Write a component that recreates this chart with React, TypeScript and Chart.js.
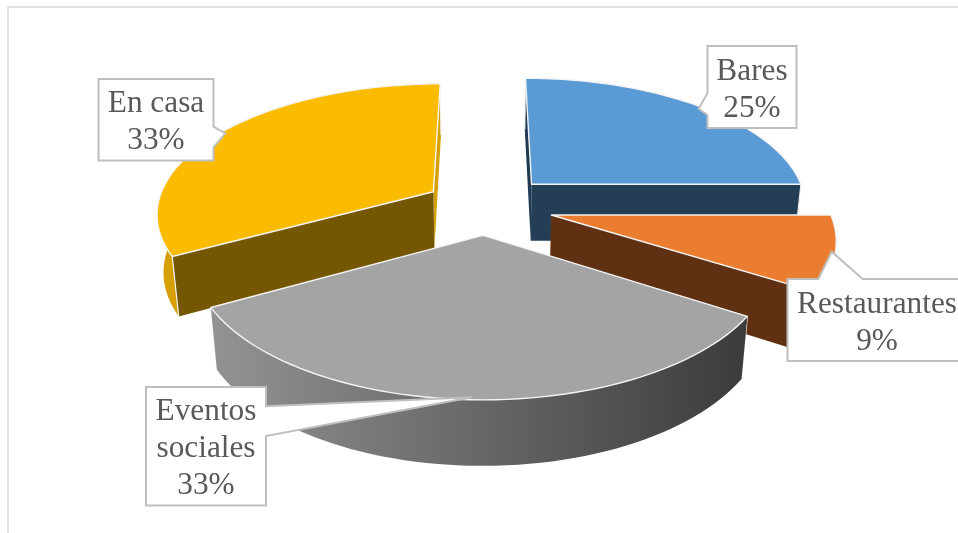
import React, { useEffect, useRef } from "react";
import { Chart, registerables } from "chart.js";

Chart.register(...registerables);

// Share of responses per place
const categories = ["Bares", "Restaurantes", "Eventos sociales", "En casa"];
const shares = [25, 9, 33, 33];

const explode = [58, 58.6, 52.3, 52.3];

const topColors = ["#5B9BD5", "#EB7D31", "#A4A4A4", "#FBBC00"];
const startWallColors = ["#1F3A54", "#8C4A1D", "#666666", "#745700"];
const endWallColors = ["#233E55", "#5F3112", "#666666", "#D6A100"];
const rimFromColors = ["#1F3A54", "#8C4A1D", "#939393", "#D6A100"];
const rimToColors = ["#1F3A54", "#8C4A1D", "#3B3B3B", "#D6A100"];

// Tilted-camera model used to turn the pie's flat geometry into a solid
const VIEW = { cx: 485, cy: 206, scaleX: 1.166, scaleZ: 0.543, depth: 0.2476, persp: 0.155, recede: 0.02 };

// Callout rectangles (left, top, right, bottom) and their pointer polygons
const callouts = [
  { box: [707.5, 46, 796.5, 128], side: "left", pointer: [[707.5, 93], [698.7, 108.7], [707.5, 115]] },
  { box: [787.5, 279, 975, 361], side: "top", pointer: [[818.3, 279], [831.7, 251.7], [862.7, 279]] },
  { box: [146, 387, 266, 505.5], side: "right", pointer: [[266, 406.3], [471.7, 397.3], [266, 436]] },
  { box: [98.5, 79, 213.5, 160.5], side: "right", pointer: [[213.5, 126.7], [225.3, 133.3], [213.5, 147.3]] },
];
const calloutTextCenters = [752, 877, 206, 156];

type Pt = [number, number];

function project(X: number, Z: number, lower: boolean, R: number): Pt {
  const w = 1 - VIEW.persp * Z + (lower ? VIEW.recede : 0);
  return [
    VIEW.cx + (VIEW.scaleX * R * X) / w,
    VIEW.cy + (VIEW.scaleZ * R * Z + (lower ? VIEW.depth * R : 0)) / w,
  ];
}

function fillPoly(ctx: CanvasRenderingContext2D, pts: Pt[], fill: string | CanvasGradient) {
  ctx.beginPath();
  pts.forEach((p, i) => (i ? ctx.lineTo(p[0], p[1]) : ctx.moveTo(p[0], p[1])));
  ctx.closePath();
  ctx.fillStyle = fill;
  ctx.fill();
}

function whiteLine(ctx: CanvasRenderingContext2D, a: Pt, b: Pt, width = 1.2) {
  ctx.beginPath();
  ctx.moveTo(a[0], a[1]);
  ctx.lineTo(b[0], b[1]);
  ctx.strokeStyle = "#F4F4F4";
  ctx.lineWidth = width;
  ctx.stroke();
}

function drawSolidSlice(ctx: CanvasRenderingContext2D, arc: any, index: number) {
  const R: number = arc.outerRadius;
  const start: number = arc.startAngle;
  const end: number = arc.endAngle;
  const mid = (start + end) / 2;
  const e = arc.options.offset / R;
  const ox = Math.cos(mid) * e;
  const oz = Math.sin(mid) * e;

  const rimAt = (a: number, lower: boolean) => project(ox + Math.cos(a), oz + Math.sin(a), lower, R);
  const steps = 60;
  const angles: number[] = [];
  for (let i = 0; i <= steps; i++) angles.push(start + ((end - start) * i) / steps);

  const apexTop = project(ox, oz, false, R);
  const apexLow = project(ox, oz, true, R);
  const topArc = angles.map((a) => rimAt(a, false));
  const lowArc = angles.map((a) => rimAt(a, true));

  const faces: { z: number; paint: () => void }[] = [];
  [start, end].forEach((a, side) => {
    const p = rimAt(a, false);
    const q = rimAt(a, true);
    faces.push({
      z: oz + Math.sin(a) / 2,
      paint: () => {
        fillPoly(ctx, [apexTop, p, q, apexLow], side ? endWallColors[index] : startWallColors[index]);
        whiteLine(ctx, p, q);
      },
    });
  });
  faces.push({
    z: oz + Math.sin(mid),
    paint: () => {
      const xs = [...topArc, ...lowArc].map((p) => p[0]);
      const grad = ctx.createLinearGradient(Math.min(...xs), 0, Math.max(...xs), 0);
      grad.addColorStop(0, rimFromColors[index]);
      grad.addColorStop(1, rimToColors[index]);
      fillPoly(ctx, [...topArc, ...[...lowArc].reverse()], grad);
    },
  });
  faces.sort((a, b) => a.z - b.z).forEach((f) => f.paint());

  const topFace: Pt[] = [apexTop, ...topArc];
  fillPoly(ctx, topFace, topColors[index]);
  ctx.closePath();
  ctx.strokeStyle = "#F4F4F4";
  ctx.lineWidth = 1.4;
  ctx.lineJoin = "round";
  ctx.stroke();
}

function wrapLines(ctx: CanvasRenderingContext2D, text: string, maxWidth: number) {
  const lines: string[] = [];
  let current = "";
  for (const word of text.split(" ")) {
    const next = current ? `${current} ${word}` : word;
    if (current && ctx.measureText(next).width > maxWidth) {
      lines.push(current);
      current = word;
    } else {
      current = next;
    }
  }
  lines.push(current);
  return lines;
}

function drawCallout(ctx: CanvasRenderingContext2D, index: number, total: number) {
  const { box, pointer } = callouts[index];
  const [l, t, r, b] = box;
  const side = callouts[index].side;
  const outline: number[][] = [[l, t]];
  if (side === "top") outline.push(...pointer);
  outline.push([r, t]);
  if (side === "right") outline.push(...pointer);
  outline.push([r, b], [l, b]);
  if (side === "left") outline.push(...[...pointer].reverse());

  ctx.beginPath();
  outline.forEach((p, i) => (i ? ctx.lineTo(p[0], p[1]) : ctx.moveTo(p[0], p[1])));
  ctx.closePath();
  ctx.fillStyle = "#FFFFFF";
  ctx.fill();
  ctx.strokeStyle = "#BFBFBF";
  ctx.lineWidth = 2;
  ctx.lineJoin = "miter";
  ctx.stroke();

  ctx.font = '31.3px "Liberation Serif"';
  ctx.fillStyle = "#595959";
  ctx.textAlign = "center";
  ctx.textBaseline = "alphabetic";
  const percent = `${Math.round((shares[index] / total) * 100)}%`;
  const lines = [...wrapLines(ctx, categories[index], r - l - 6), percent];
  const lineHeight = 37;
  const firstBaseline = (t + b) / 2 - ((lines.length - 1) * lineHeight) / 2 + 11;
  lines.forEach((line, i) => ctx.fillText(line, calloutTextCenters[index], firstBaseline + i * lineHeight));
}

const solidPie = {
  id: "solidPie",
  beforeDatasetsDraw(chart: any) {
    const ctx: CanvasRenderingContext2D = chart.ctx;
    const arcs: any[] = chart.getDatasetMeta(0).data;
    const total = shares.reduce((sum, v) => sum + v, 0);

    // Chart frame, open at the right and bottom edges
    ctx.save();
    ctx.strokeStyle = "#D9D9D9";
    ctx.lineWidth = 1.5;
    ctx.beginPath();
    ctx.moveTo(8, 533);
    ctx.lineTo(8, 7);
    ctx.lineTo(958, 7);
    ctx.stroke();

    // Slices are painted from the far side of the pie to the near side
    arcs
      .map((arc, i) => ({ arc, i, z: Math.sin((arc.startAngle + arc.endAngle) / 2) }))
      .sort((a, b) => a.z - b.z)
      .forEach(({ arc, i }) => drawSolidSlice(ctx, arc, i));

    arcs.forEach((_, i) => drawCallout(ctx, i, total));
    ctx.restore();
    return false;
  },
};

export default function App() {
  const canvasRef = useRef<HTMLCanvasElement>(null);

  useEffect(() => {
    const chart = new Chart(canvasRef.current!, {
      type: "pie",
      data: {
        labels: categories,
        datasets: [{ data: shares, backgroundColor: topColors, offset: explode, hoverOffset: 0, borderWidth: 0 }],
      },
      options: {
        responsive: false,
        animation: false,
        events: [],
        layout: { padding: 0 },
        plugins: { legend: { display: false }, tooltip: { enabled: false } },
      },
      plugins: [solidPie],
    } as any);
    return () => chart.destroy();
  }, []);

  return (
    <canvas
      ref={canvasRef}
      width={958}
      height={533}
      style={{ position: "fixed", left: 0, top: 0, width: 958, height: 533, display: "block" }}
    />
  );
}
